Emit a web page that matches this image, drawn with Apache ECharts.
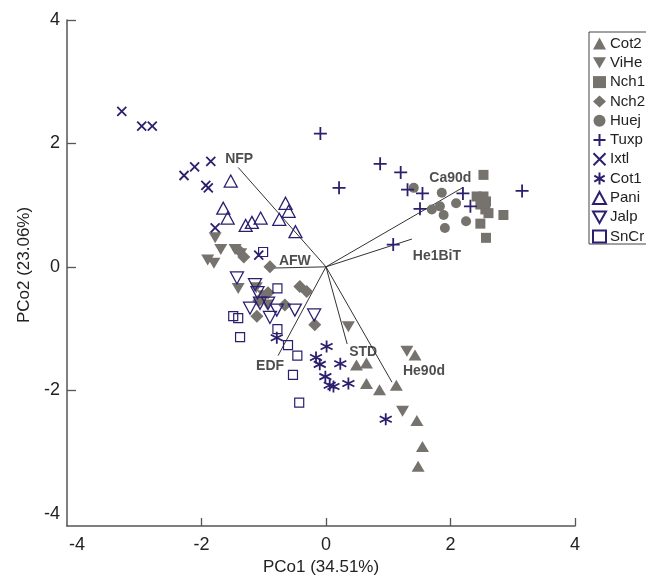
<!DOCTYPE html>
<html>
<head>
<meta charset="UTF-8">
<title>PCo biplot</title>
<script src="https://cdn.jsdelivr.net/npm/echarts@6/dist/echarts.min.js"></script>
<style>
  html, body { margin: 0; padding: 0; background: #fff; }
  #main { width: 646px; height: 581px; }
</style>
</head>
<body>
<div id="main"></div>
<script type="text/javascript">
// group scores, [PCo1, PCo2]
var cot2 = [[1.43, -1.43], [0.49, -1.59], [0.65, -1.56], [0.65, -1.89], [0.86, -1.99],
    [1.13, -1.92], [1.46, -2.49], [1.55, -2.91], [1.48, -3.23]];
var vihe = [[-1.78, 0.47], [-1.69, 0.28], [-1.90, 0.11], [-1.80, 0.06], [-1.46, 0.28],
    [-1.37, 0.21], [-1.41, -0.35], [-1.12, -0.34], [-1.00, -0.47], [-0.94, -0.62],
    [0.36, -0.97], [1.30, -1.37], [1.23, -2.34]];
var nch1 = [[2.53, 1.49], [2.42, 1.14], [2.53, 1.14], [2.57, 1.06], [2.48, 1.01],
    [2.56, 0.93], [2.61, 0.87], [2.85, 0.84], [2.48, 0.70], [2.57, 0.47]];
var nch2 = [[-1.40, 0.27], [-1.32, 0.16], [-0.90, 0.00], [-0.42, -0.32], [-0.31, -0.40],
    [-0.93, -0.42], [-1.08, -0.55], [-1.11, -0.80], [-0.18, -0.94], [-0.66, -0.62]];
var huej = [[1.41, 1.28], [1.86, 1.20], [2.09, 1.03], [1.70, 0.93], [1.83, 0.98],
    [1.89, 0.84], [1.91, 0.63], [2.25, 0.74]];
var tuxp = [[-0.09, 2.16], [0.87, 1.67], [1.20, 1.53], [0.21, 1.28], [1.31, 1.25],
    [1.55, 1.19], [1.51, 0.94], [2.20, 1.19], [2.32, 0.98], [3.15, 1.23], [1.08, 0.36]];
var ixtl = [[-3.28, 2.52], [-2.96, 2.28], [-2.79, 2.28], [-2.28, 1.48], [-2.11, 1.62],
    [-1.85, 1.71], [-1.93, 1.32], [-1.89, 1.28], [-1.78, 0.63], [-1.08, 0.19]];
var cot1 = [[0.01, -1.29], [-0.16, -1.47], [-0.10, -1.58], [0.23, -1.57], [-0.01, -1.78],
    [0.06, -1.92], [0.12, -1.94], [0.36, -1.89], [0.96, -2.47], [-0.79, -1.15]];
var pani = [[-1.53, 1.39], [-1.65, 0.95], [-1.58, 0.79], [-1.29, 0.67], [-1.19, 0.72],
    [-1.05, 0.79], [-0.75, 0.77], [-0.65, 1.03], [-0.60, 0.90], [-0.49, 0.57]];
var jalp = [[-1.43, -0.18], [-1.14, -0.29], [-1.22, -0.67], [-1.06, -0.59], [-0.93, -0.59],
    [-0.79, -0.70], [-0.90, -0.82], [-0.50, -0.70], [-0.19, -0.78], [-1.10, -0.42]];
var sncr = [[-1.01, 0.24], [-0.78, -0.35], [-1.49, -0.80], [-1.41, -0.83], [-1.38, -1.14],
    [-0.78, -1.01], [-0.61, -1.27], [-0.46, -1.44], [-0.53, -1.75], [-0.43, -2.20]];

// variable vectors
var loadNames = ['NFP', 'AFW', 'Ca90d', 'He1BiT', 'EDF', 'STD', 'He90d'];
var loadX = [-1.41, -0.87, 2.19, 1.38, -0.77, 0.34, 1.06];
var loadY = [1.61, -0.02, 1.28, 0.45, -1.44, -1.25, -1.87];

var ticks = [-4, -2, 0, 2, 4];

var gray = '#76726d';
var navy = '#2c1f6e';

// where each vector label sits relative to the tip (px)
var labelOffset = {
    'NFP': [1, -8], 'AFW': [23, -7], 'Ca90d': [-12, -10], 'He1BiT': [25, 17],
    'EDF': [-8, 10], 'STD': [16, 8], 'He90d': [32, -11]
};

var downTri = 'path://M0,0L12,0L6,10.4Z';
var plusPath = 'path://M0,6L12,6M6,0L6,12';
var crossPath = 'path://M0,0L10,10M10,0L0,10';
var starPath = 'path://M6,0L6,12M0.8,3L11.2,9M0.8,9L11.2,3';

function filled(name, data, symbol, size) {
    return {
        name: name, type: 'scatter', data: data, symbol: symbol, symbolSize: size,
        itemStyle: { color: gray, opacity: 1 },
        emphasis: { disabled: true }
    };
}
function open(name, data, symbol, size, bw) {
    return {
        name: name, type: 'scatter', data: data, symbol: symbol, symbolSize: size,
        itemStyle: { color: 'rgba(255,255,255,0)', borderColor: navy, borderWidth: bw, opacity: 1 },
        emphasis: { disabled: true }
    };
}

var vecLines = [];
var vecTips = [];
for (var i = 0; i < loadNames.length; i++) {
    vecLines.push({ coords: [[0, 0], [loadX[i], loadY[i]]] });
    vecTips.push({
        name: loadNames[i],
        value: [loadX[i], loadY[i]],
        label: { offset: labelOffset[loadNames[i]] }
    });
}

var myChart = echarts.init(document.getElementById('main'));

var option = {
    animation: false,
    backgroundColor: '#fff',
    grid: { left: 67, right: 71, top: 20, bottom: 55 },
    legend: {
        orient: 'vertical',
        left: 589,
        top: 32,
        padding: [4, 5, 0, 3],
        itemWidth: 13,
        itemHeight: 12,
        itemGap: 4.3,
        borderColor: '#444',
        borderWidth: 1,
        borderRadius: 0,
        data: ['Cot2', 'ViHe', 'Nch1', 'Nch2', 'Huej', 'Tuxp', 'Ixtl', 'Cot1', 'Pani', 'Jalp', 'SnCr'],
        textStyle: { fontFamily: 'Liberation Sans, Arial', fontSize: 15, color: '#222', padding: [0, 0, 0, -1] }
    },
    xAxis: {
        type: 'value',
        min: -4.16,
        max: 4,
        name: 'PCo1 (34.51%)',
        nameLocation: 'middle',
        nameGap: 28,
        nameTextStyle: { fontFamily: 'Liberation Sans, Arial', fontSize: 17, color: '#222' },
        splitLine: { show: false },
        axisLine: { onZero: false, lineStyle: { color: '#555', width: 1.5 } },
        axisTick: { show: true, inside: true, length: 8, customValues: [-2, 0, 2, 4], lineStyle: { color: '#555', width: 1.3 } },
        axisLabel: { customValues: ticks, margin: 10, fontFamily: 'Liberation Sans, Arial', fontSize: 18, color: '#222' }
    },
    yAxis: {
        type: 'value',
        min: -4.2,
        max: 4,
        name: 'PCo2 (23.06%)',
        nameLocation: 'middle',
        nameGap: 32,
        nameTextStyle: { fontFamily: 'Liberation Sans, Arial', fontSize: 17, color: '#222', padding: [0, 0, 0, 16] },
        splitLine: { show: false },
        axisLine: { onZero: false, lineStyle: { color: '#555', width: 1.5 } },
        axisTick: { show: true, inside: true, length: 9, customValues: [-2, 0, 2, 4], lineStyle: { color: '#555', width: 1.3 } },
        axisLabel: { customValues: ticks, margin: 7, fontFamily: 'Liberation Sans, Arial', fontSize: 18, color: '#222' }
    },
    series: [
        filled('Cot2', cot2, 'triangle', [13, 11]),
        filled('ViHe', vihe, downTri, [13, 11]),
        filled('Nch1', nch1, 'rect', 10),
        filled('Nch2', nch2, 'diamond', [13, 13]),
        filled('Huej', huej, 'circle', 10),
        open('Tuxp', tuxp, plusPath, 13, 1.8),
        open('Ixtl', ixtl, crossPath, 9, 1.8),
        open('Cot1', cot1, starPath, 12, 1.8),
        open('Pani', pani, 'triangle', [13, 12], 1.3),
        open('Jalp', jalp, 'path://M0,0L13,0L6.5,11.5Z', [13, 12], 1.3),
        open('SnCr', sncr, 'rect', 9, 1.2),
        {
            name: 'vectors',
            type: 'lines',
            coordinateSystem: 'cartesian2d',
            data: vecLines,
            silent: true,
            lineStyle: { color: '#333', width: 1, opacity: 1 }
        },
        {
            name: 'vectorLabels',
            type: 'scatter',
            data: vecTips,
            symbolSize: 0,
            silent: true,
            label: {
                show: true,
                position: 'inside',
                formatter: '{b}',
                fontFamily: 'Liberation Sans, Arial',
                fontWeight: 'bold',
                fontSize: 14,
                color: '#222'
            }
        }
    ]
};

myChart.setOption(option);
</script>
</body>
</html>
